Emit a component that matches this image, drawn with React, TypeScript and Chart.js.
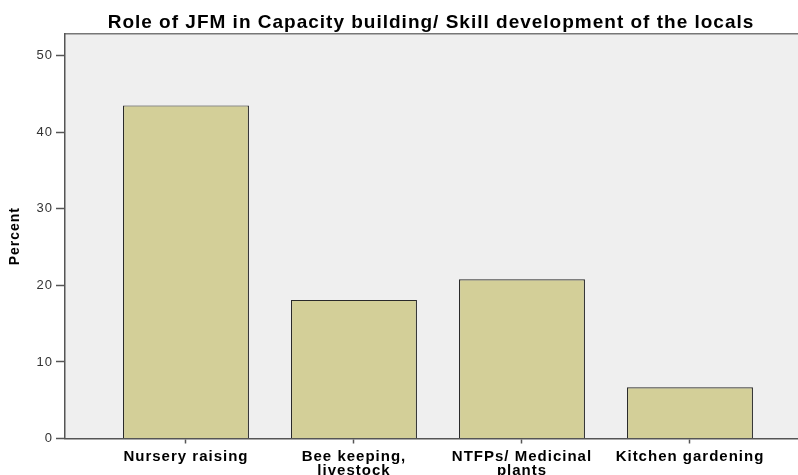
import React, { useEffect, useRef } from "react";
import { Chart, registerables } from "chart.js";

Chart.register(...registerables);

const titleText = "Role of JFM in Capacity building/ Skill development of the locals";
const categories: string[][] = [
  ["Nursery raising"],
  ["Bee keeping,", "livestock"],
  ["NTFPs/ Medicinal", "plants"],
  ["Kitchen gardening"],
];
const percents = [43.5, 18.1, 20.8, 6.7];
const yTicks = [0, 10, 20, 30, 40, 50];
const yAxisTitle = "Percent";

const FONT = "'Liberation Sans', Arial, Helvetica, sans-serif";

const spacingPlugin = {
  id: "spacing",
  beforeUpdate(chart: any) {
    chart.ctx.letterSpacing = "1px";
  },
  beforeDraw(chart: any) {
    chart.ctx.letterSpacing = "1px";
  },
};

const bgPlugin = {
  id: "plotBg",
  beforeDraw(chart: any) {
    const { ctx, chartArea: a } = chart;
    ctx.save();
    ctx.fillStyle = "#efefef";
    ctx.fillRect(a.left, a.top, a.right - a.left, a.bottom - a.top);
    ctx.strokeStyle = "#777";
    ctx.lineWidth = 1.5;
    ctx.beginPath();
    ctx.moveTo(a.left, a.top);
    ctx.lineTo(a.right, a.top);
    ctx.stroke();
    ctx.restore();
  },
};

export default function App() {
  const ref = useRef<HTMLCanvasElement | null>(null);
  useEffect(() => {
    if (!ref.current) return;
    const chart = new Chart(ref.current, {
      type: "bar",
      data: {
        datasets: [
          {
            data: percents.map((y, i) => ({ x: i, y })),
            backgroundColor: "#d3cf98",
            borderColor: "#2a2a2a",
            borderWidth: 1.2,
            categoryPercentage: 1,
            barPercentage: 0.75,
          },
        ],
      },
      options: {
        animation: false,
        responsive: false,
        layout: { padding: 0 },
        plugins: {
          legend: { display: false },
          tooltip: { enabled: false },
          title: {
            display: true,
            text: titleText,
            color: "#000",
            font: { family: FONT, size: 19, weight: "bold", lineHeight: 1.2 },
            padding: { top: 11, bottom: 0 },
          },
        },
        scales: {
          x: {
            type: "linear",
            offset: false,
            bounds: "data",
            min: -0.72,
            max: 4.024,
            afterBuildTicks: (s: any) => {
              s.ticks = categories.map((_, i) => ({ value: i }));
            },
            ticks: {
              callback: (v: any) => categories[v as number],
              color: "#000",
              font: { family: FONT, size: 15, weight: "bold", lineHeight: 0.97 },
              padding: 6,
              autoSkip: false,
              maxRotation: 0,
            },
            grid: { offset: false, drawOnChartArea: false, tickLength: 5, color: "#555", tickWidth: 1.5 },
            border: { color: "#555", width: 1.5 },
            afterFit: (s: any) => {
              s.height = 36.5;
            },
          },
          y: {
            min: 0,
            max: 52.85,
            afterBuildTicks: (s: any) => {
              s.ticks = yTicks.map((v) => ({ value: v }));
            },
            ticks: { color: "#333", font: { family: FONT, size: 13 }, padding: 3 },
            grid: { drawOnChartArea: false, tickLength: 9, color: "#555", tickWidth: 1.5 },
            border: { color: "#555", width: 1.5 },
            title: {
              display: true,
              text: yAxisTitle,
              color: "#000",
              font: { family: FONT, size: 14, weight: "bold" },
              padding: { top: 7, bottom: 0 },
            },
            afterFit: (s: any) => {
              s.width = 65;
            },
          },
        },
      } as any,
      plugins: [spacingPlugin, bgPlugin],
    });
    return () => chart.destroy();
  }, []);
  return (
    <div
      style={{
        position: "fixed",
        left: 0,
        top: 0,
        width: 798,
        height: 475,
        overflow: "hidden",
        background: "#fff",
      }}
    >
      <canvas ref={ref} width={862} height={475} style={{ width: 862, height: 475, display: "block" }} />
    </div>
  );
}
